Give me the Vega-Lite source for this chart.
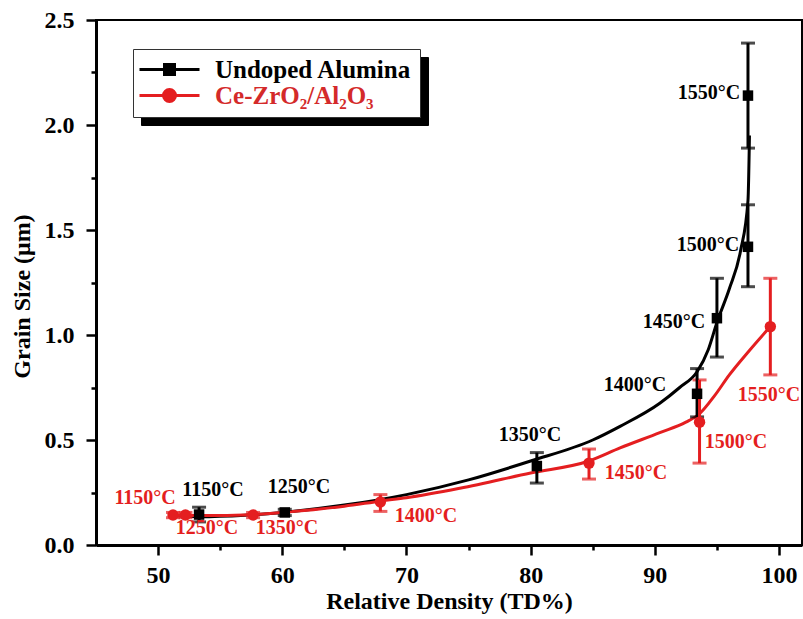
{
  "$schema": "https://vega.github.io/schema/vega-lite/v6.json",
  "autosize": {"type": "none"},
  "padding": {"left": 96, "top": 20, "right": 1, "bottom": 74},
  "width": 706,
  "height": 525,
  "background": "white",
  "config": {
    "view": {"stroke": "black", "strokeWidth": 2},
    "font": "Liberation Serif"
  },
  "datasets": {
    "pts": [
      {"series": "Undoped Alumina", "temp": "1150°C", "x": 53.3, "y": 0.145, "lo": 0.11, "hi": 0.18},
      {"series": "Undoped Alumina", "temp": "1250°C", "x": 60.2, "y": 0.155, "lo": 0.14, "hi": 0.17},
      {"series": "Undoped Alumina", "temp": "1350°C", "x": 80.5, "y": 0.376, "lo": 0.295, "hi": 0.44},
      {"series": "Undoped Alumina", "temp": "1400°C", "x": 93.4, "y": 0.72, "lo": 0.61, "hi": 0.84},
      {"series": "Undoped Alumina", "temp": "1450°C", "x": 95.0, "y": 1.08, "lo": 0.895, "hi": 1.27},
      {"series": "Undoped Alumina", "temp": "1500°C", "x": 97.5, "y": 1.42, "lo": 1.23, "hi": 1.62},
      {"series": "Undoped Alumina", "temp": "1550°C", "x": 97.5, "y": 2.14, "lo": 1.89, "hi": 2.39},
      {"series": "Ce-ZrO₂/Al₂O₃", "temp": "1150°C", "x": 51.2, "y": 0.143, "lo": 0.13, "hi": 0.155},
      {"series": "Ce-ZrO₂/Al₂O₃", "temp": "1250°C", "x": 52.2, "y": 0.143, "lo": 0.13, "hi": 0.155},
      {"series": "Ce-ZrO₂/Al₂O₃", "temp": "1350°C", "x": 57.65, "y": 0.143, "lo": 0.13, "hi": 0.155},
      {"series": "Ce-ZrO₂/Al₂O₃", "temp": "1400°C", "x": 67.9, "y": 0.205, "lo": 0.16, "hi": 0.24},
      {"series": "Ce-ZrO₂/Al₂O₃", "temp": "1450°C", "x": 84.7, "y": 0.39, "lo": 0.314, "hi": 0.457},
      {"series": "Ce-ZrO₂/Al₂O₃", "temp": "1500°C", "x": 93.6, "y": 0.585, "lo": 0.39, "hi": 0.786},
      {"series": "Ce-ZrO₂/Al₂O₃", "temp": "1550°C", "x": 99.3, "y": 1.04, "lo": 0.81, "hi": 1.27}
    ],
    "curve": [
      {"series": "Undoped Alumina", "x": 51.2, "y": 0.14},
      {"series": "Undoped Alumina", "x": 53.3, "y": 0.135},
      {"series": "Undoped Alumina", "x": 57, "y": 0.142},
      {"series": "Undoped Alumina", "x": 60, "y": 0.155},
      {"series": "Undoped Alumina", "x": 65, "y": 0.19},
      {"series": "Undoped Alumina", "x": 70, "y": 0.24},
      {"series": "Undoped Alumina", "x": 75, "y": 0.31},
      {"series": "Undoped Alumina", "x": 80, "y": 0.40},
      {"series": "Undoped Alumina", "x": 85, "y": 0.50},
      {"series": "Undoped Alumina", "x": 87.2, "y": 0.565},
      {"series": "Undoped Alumina", "x": 90.4, "y": 0.675},
      {"series": "Undoped Alumina", "x": 92, "y": 0.75},
      {"series": "Undoped Alumina", "x": 93.4, "y": 0.825},
      {"series": "Undoped Alumina", "x": 94.3, "y": 0.93},
      {"series": "Undoped Alumina", "x": 95, "y": 1.06},
      {"series": "Undoped Alumina", "x": 96, "y": 1.22},
      {"series": "Undoped Alumina", "x": 96.9, "y": 1.40},
      {"series": "Undoped Alumina", "x": 97.5, "y": 1.64},
      {"series": "Undoped Alumina", "x": 97.62, "y": 1.95},
      {"series": "Ce-ZrO₂/Al₂O₃", "x": 51.2, "y": 0.14},
      {"series": "Ce-ZrO₂/Al₂O₃", "x": 55, "y": 0.14},
      {"series": "Ce-ZrO₂/Al₂O₃", "x": 57.65, "y": 0.145},
      {"series": "Ce-ZrO₂/Al₂O₃", "x": 60, "y": 0.155},
      {"series": "Ce-ZrO₂/Al₂O₃", "x": 65, "y": 0.185},
      {"series": "Ce-ZrO₂/Al₂O₃", "x": 68, "y": 0.21},
      {"series": "Ce-ZrO₂/Al₂O₃", "x": 70, "y": 0.225},
      {"series": "Ce-ZrO₂/Al₂O₃", "x": 74.3, "y": 0.27},
      {"series": "Ce-ZrO₂/Al₂O₃", "x": 80, "y": 0.343},
      {"series": "Ce-ZrO₂/Al₂O₃", "x": 84.7, "y": 0.40},
      {"series": "Ce-ZrO₂/Al₂O₃", "x": 87.2, "y": 0.462},
      {"series": "Ce-ZrO₂/Al₂O₃", "x": 90.4, "y": 0.535},
      {"series": "Ce-ZrO₂/Al₂O₃", "x": 92.5, "y": 0.585},
      {"series": "Ce-ZrO₂/Al₂O₃", "x": 93.6, "y": 0.625},
      {"series": "Ce-ZrO₂/Al₂O₃", "x": 94.8, "y": 0.71},
      {"series": "Ce-ZrO₂/Al₂O₃", "x": 96.0, "y": 0.81},
      {"series": "Ce-ZrO₂/Al₂O₃", "x": 97.6, "y": 0.925},
      {"series": "Ce-ZrO₂/Al₂O₃", "x": 99.3, "y": 1.04}
    ],
    "labels": [
      {"series": "Undoped Alumina", "label": "1150°C", "lx": 54.42, "ly": 0.262},
      {"series": "Undoped Alumina", "label": "1250°C", "lx": 61.34, "ly": 0.276},
      {"series": "Undoped Alumina", "label": "1350°C", "lx": 79.94, "ly": 0.524},
      {"series": "Undoped Alumina", "label": "1400°C", "lx": 88.40, "ly": 0.762},
      {"series": "Undoped Alumina", "label": "1450°C", "lx": 91.54, "ly": 1.062},
      {"series": "Undoped Alumina", "label": "1500°C", "lx": 94.28, "ly": 1.429},
      {"series": "Undoped Alumina", "label": "1550°C", "lx": 94.36, "ly": 2.152},
      {"series": "Ce-ZrO₂/Al₂O₃", "label": "1150°C", "lx": 48.95, "ly": 0.224},
      {"series": "Ce-ZrO₂/Al₂O₃", "label": "1250°C", "lx": 53.94, "ly": 0.081},
      {"series": "Ce-ZrO₂/Al₂O₃", "label": "1350°C", "lx": 60.38, "ly": 0.081},
      {"series": "Ce-ZrO₂/Al₂O₃", "label": "1400°C", "lx": 71.57, "ly": 0.138},
      {"series": "Ce-ZrO₂/Al₂O₃", "label": "1450°C", "lx": 88.48, "ly": 0.343},
      {"series": "Ce-ZrO₂/Al₂O₃", "label": "1500°C", "lx": 96.53, "ly": 0.490},
      {"series": "Ce-ZrO₂/Al₂O₃", "label": "1550°C", "lx": 99.2, "ly": 0.714}
    ]
  },
  "encoding": {
    "x": {
      "type": "quantitative",
      "scale": {"domain": [45, 101.85], "nice": false, "zero": false},
      "axis": {
        "title": "Relative Density (TD%)",
        "values": [50, 55, 60, 65, 70, 75, 80, 85, 90, 95, 100],
        "labelExpr": "datum.value % 10 === 0 ? datum.label : ''",
        "grid": false,
        "tickSize": {"condition": {"test": "datum.value % 10 === 0", "value": 10}, "value": 5},
        "tickWidth": 2.5,
        "tickColor": "black",
        "domainColor": "black",
        "domainWidth": 3,
        "labelFont": "Liberation Serif",
        "labelFontWeight": "bold",
        "labelFontSize": 24,
        "labelColor": "black",
        "labelPadding": 8,
        "labelFlush": false,
        "titleFont": "Liberation Serif",
        "titleFontWeight": "bold",
        "titleFontSize": 24,
        "titleColor": "black",
        "titlePadding": 2
      }
    },
    "y": {
      "type": "quantitative",
      "scale": {"domain": [0, 2.5], "nice": false},
      "axis": {
        "title": "Grain Size (μm)",
        "values": [0, 0.25, 0.5, 0.75, 1, 1.25, 1.5, 1.75, 2, 2.25, 2.5],
        "labelExpr": "datum.value % 0.5 === 0 ? format(datum.value, '.1f') : ''",
        "grid": false,
        "tickSize": {"condition": {"test": "datum.value % 0.5 === 0", "value": 10}, "value": 5},
        "tickWidth": 2.5,
        "tickColor": "black",
        "domainColor": "black",
        "domainWidth": 3,
        "labelFont": "Liberation Serif",
        "labelFontWeight": "bold",
        "labelFontSize": 24,
        "labelColor": "black",
        "labelPadding": 12,
        "labelFlush": false,
        "titleFont": "Liberation Serif",
        "titleFontWeight": "bold",
        "titleFontSize": 24,
        "titleColor": "black",
        "titlePadding": 10,
        "titleY": 276
      }
    }
  },
  "layer": [
    {
      "data": {"name": "pts"},
      "mark": {"type": "point", "filled": true, "opacity": 0, "color": "black"},
      "encoding": {
        "x": {"field": "x", "type": "quantitative"},
        "y": {"field": "y", "type": "quantitative"},
        "size": {
          "field": "series", "type": "nominal", "sort": "descending",
          "scale": {"range": [400, 400]},
          "legend": {
            "title": null,
            "orient": "none",
            "legendX": 45,
            "legendY": 37,
            "padding": 8,
            "rowPadding": 0,
            "symbolOffset": 16,
            "labelOffset": 33,
            "labelLimit": 400,
            "symbolOpacity": 0,
            "labelOpacity": 0,
            "labelFont": "Liberation Serif",
            "labelFontWeight": "bold",
            "labelFontSize": 25,
            "labelColor": "black",
            "fillColor": "black",
            "strokeColor": "black"
          }
        }
      }
    },
    {
      "data": {"name": "curve"},
      "mark": {"type": "line", "interpolate": "monotone", "strokeWidth": 3},
      "encoding": {
        "x": {"field": "x", "type": "quantitative"},
        "y": {"field": "y", "type": "quantitative"},
        "color": {"field": "series", "type": "nominal", "legend": null,
          "scale": {"range": ["#e41e20", "#000000"]}}
      }
    },
    {
      "data": {"name": "pts"},
      "mark": {"type": "errorbar", "thickness": 3, "ticks": {"size": 14, "thickness": 3}},
      "encoding": {
        "x": {"field": "x", "type": "quantitative"},
        "y": {"field": "lo", "type": "quantitative"},
        "y2": {"field": "hi"},
        "color": {"field": "series", "type": "nominal", "legend": null}
      }
    },
    {
      "data": {"name": "pts"},
      "transform": [{"filter": "datum.series === 'Undoped Alumina'"}],
      "mark": {"type": "point", "filled": true, "size": 110, "shape": "square", "opacity": 1},
      "encoding": {
        "x": {"field": "x", "type": "quantitative"},
        "y": {"field": "y", "type": "quantitative"},
        "color": {"field": "series", "type": "nominal", "legend": null}
      }
    },
    {
      "data": {"name": "pts"},
      "transform": [{"filter": "datum.series !== 'Undoped Alumina'"}],
      "mark": {"type": "point", "filled": true, "size": 130, "shape": "circle", "opacity": 1},
      "encoding": {
        "x": {"field": "x", "type": "quantitative"},
        "y": {"field": "y", "type": "quantitative"},
        "color": {"field": "series", "type": "nominal", "legend": null}
      }
    },
    {
      "data": {"name": "pts"},
      "transform": [{"filter": "false"}],
      "mark": {"type": "point", "opacity": 1, "strokeWidth": 3},
      "encoding": {
        "x": {"field": "x", "type": "quantitative"},
        "y": {"field": "y", "type": "quantitative"},
        "fill": {"field": "series", "type": "nominal",
          "scale": {"domain": ["Undoped Alumina", "Ce-ZrO₂/Al₂O₃"], "range": ["#000000", "#e41e20"]},
          "legend": {
            "title": null,
            "orient": "none",
            "legendX": 37,
            "legendY": 29,
            "padding": 8,
            "rowPadding": 0,
            "symbolSize": 400,
            "symbolOffset": 16,
            "labelOffset": 33,
            "labelLimit": 400,
            "symbolStrokeWidth": 3,
            "labelFont": "Liberation Serif",
            "labelFontWeight": "bold",
            "labelFontSize": 25,
            "labelColor": {"expr": "datum.value === 'Undoped Alumina' ? '#000000' : '#d42a2a'"},
            "fillColor": "white",
            "strokeColor": "#333333"
          }
        },
        "stroke": {"field": "series", "type": "nominal",
          "scale": {"domain": ["Undoped Alumina", "Ce-ZrO₂/Al₂O₃"], "range": ["#000000", "#e41e20"]}},
        "shape": {"field": "series", "type": "nominal",
          "scale": {"domain": ["Undoped Alumina", "Ce-ZrO₂/Al₂O₃"],
            "range": ["M-3,0H3M-0.5,-0.5H0.5V0.5H-0.5Z", "M-3,0H3M-0.6,0A0.6,0.6,0,1,0,0.6,0A0.6,0.6,0,1,0,-0.6,0Z"]}}
      }
    },
    {
      "data": {"name": "labels"},
      "mark": {"type": "text", "font": "Liberation Serif", "fontWeight": "bold", "fontSize": 20, "align": "center", "baseline": "middle"},
      "encoding": {
        "x": {"field": "lx", "type": "quantitative"},
        "y": {"field": "ly", "type": "quantitative"},
        "text": {"field": "label"},
        "color": {"field": "series", "type": "nominal", "legend": null}
      }
    }
  ]
}
